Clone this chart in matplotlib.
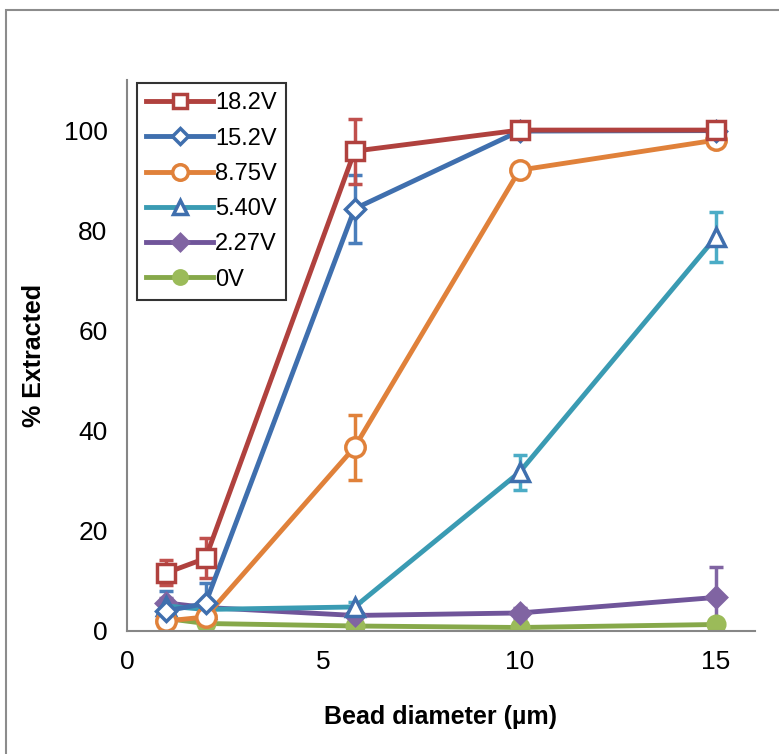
import matplotlib
matplotlib.use("Agg")
import matplotlib.pyplot as plt
from matplotlib.patches import Rectangle
from matplotlib.lines import Line2D

plt.rcParams['font.family'] = ['Liberation Sans', 'DejaVu Sans']

bead_diameter = [1, 2, 5.8, 10, 15]
series_labels = ["18.2V", "15.2V", "8.75V", "5.40V", "2.27V", "0V"]
values = {
    "18.2V": [11.6, 14.5, 95.8, 100, 100],
    "15.2V": [4.0, 5.5, 84.3, 99.8, 99.9],
    "8.75V": [2.0, 2.8, 36.7, 92.0, 98.0],
    "5.40V": [5.0, 4.3, 4.8, 31.7, 78.6],
    "2.27V": [5.6, 4.7, 3.1, 3.6, 6.7],
    "0V":    [2.5, 1.5, 1.0, 0.7, 1.3],
}
errors = {
    "18.2V": [2.5, 4.0, 6.5, 0.5, 0.5],
    "15.2V": [4.0, 4.0, 6.8, 0.5, 0.5],
    "8.75V": [0.5, 0.5, 6.5, 0.5, 0.5],
    "5.40V": [0.5, 0.5, 1.0, 3.5, 5.0],
    "2.27V": [1.0, 1.0, 0.5, 1.0, 6.0],
    "0V":    [0.3, 0.3, 0.3, 0.3, 1.0],
}

styles = {
    "18.2V": dict(color="#B0413E", marker="s", mfc="white", mec="#B0413E", ecolor="#C0504D", ms=13),
    "15.2V": dict(color="#3F6FAE", marker="D", mfc="white", mec="#3F6FAE", ecolor="#4A7EBB", ms=10),
    "8.75V": dict(color="#E0813A", marker="o", mfc="white", mec="#E0813A", ecolor="#E0813A", ms=14),
    "5.40V": dict(color="#3A9BB3", marker="^", mfc="white", mec="#3F6FAE", ecolor="#4BACC6", ms=13),
    "2.27V": dict(color="#70559A", marker="D", mfc="#8064A2", mec="#8064A2", ecolor="#8064A2", ms=10),
    "0V":    dict(color="#86A84A", marker="o", mfc="#9BBB59", mec="#9BBB59", ecolor="#9BBB59", ms=12),
}

fig = plt.figure(figsize=(7.79, 7.54), dpi=100)
ax = fig.add_axes([127/779, 1-631/754, (755-127)/779, (631-80)/754])

fig.patches.append(Rectangle((6/779, -0.1), 1.2, 1-10/754+0.1, transform=fig.transFigure,
                             fill=False, edgecolor="#8C8C8C", lw=1.5, zorder=0))

for lab in series_labels[::-1]:
    st = styles[lab]
    ax.errorbar(bead_diameter, values[lab], yerr=errors[lab], color=st["color"], lw=3.5,
                marker=st["marker"], ms=st["ms"], mfc=st["mfc"], mec=st["mec"], mew=2.5,
                ecolor=st["ecolor"], elinewidth=2.5, capsize=5, capthick=2.5)

ax.set_xlim(0, 16)
ax.set_ylim(0, 110)
ax.set_xticks([0, 5, 10, 15])
ax.set_yticks([0, 20, 40, 60, 80, 100])
ax.tick_params(length=0, labelsize=19, pad=14)
for s in ["top", "right"]:
    ax.spines[s].set_visible(False)
for s in ["left", "bottom"]:
    ax.spines[s].set_color("#868686")
    ax.spines[s].set_linewidth(1.5)

ax.set_xlabel("Bead diameter (\u00b5m)", fontsize=18, fontweight="bold", labelpad=22)
ax.set_ylabel("% Extracted", fontsize=18, fontweight="bold", labelpad=13)

handles = []
for lab in series_labels:
    st = styles[lab]
    handles.append(Line2D([], [], color=st["color"], lw=3.5, marker=st["marker"],
                          ms=st["ms"] * 0.8, mfc=st["mfc"], mec=st["mec"], mew=2.5))
leg = ax.legend(handles, series_labels,
                loc="upper left", bbox_to_anchor=(10/628, 1 - 3/551), fontsize=17,
                frameon=True, fancybox=False, edgecolor="black", handlelength=2.8,
                handletextpad=0.1, labelspacing=0.56, borderpad=0.4, borderaxespad=0)
leg.get_frame().set_linewidth(1.5)

fig.savefig("out.png", dpi=100)
